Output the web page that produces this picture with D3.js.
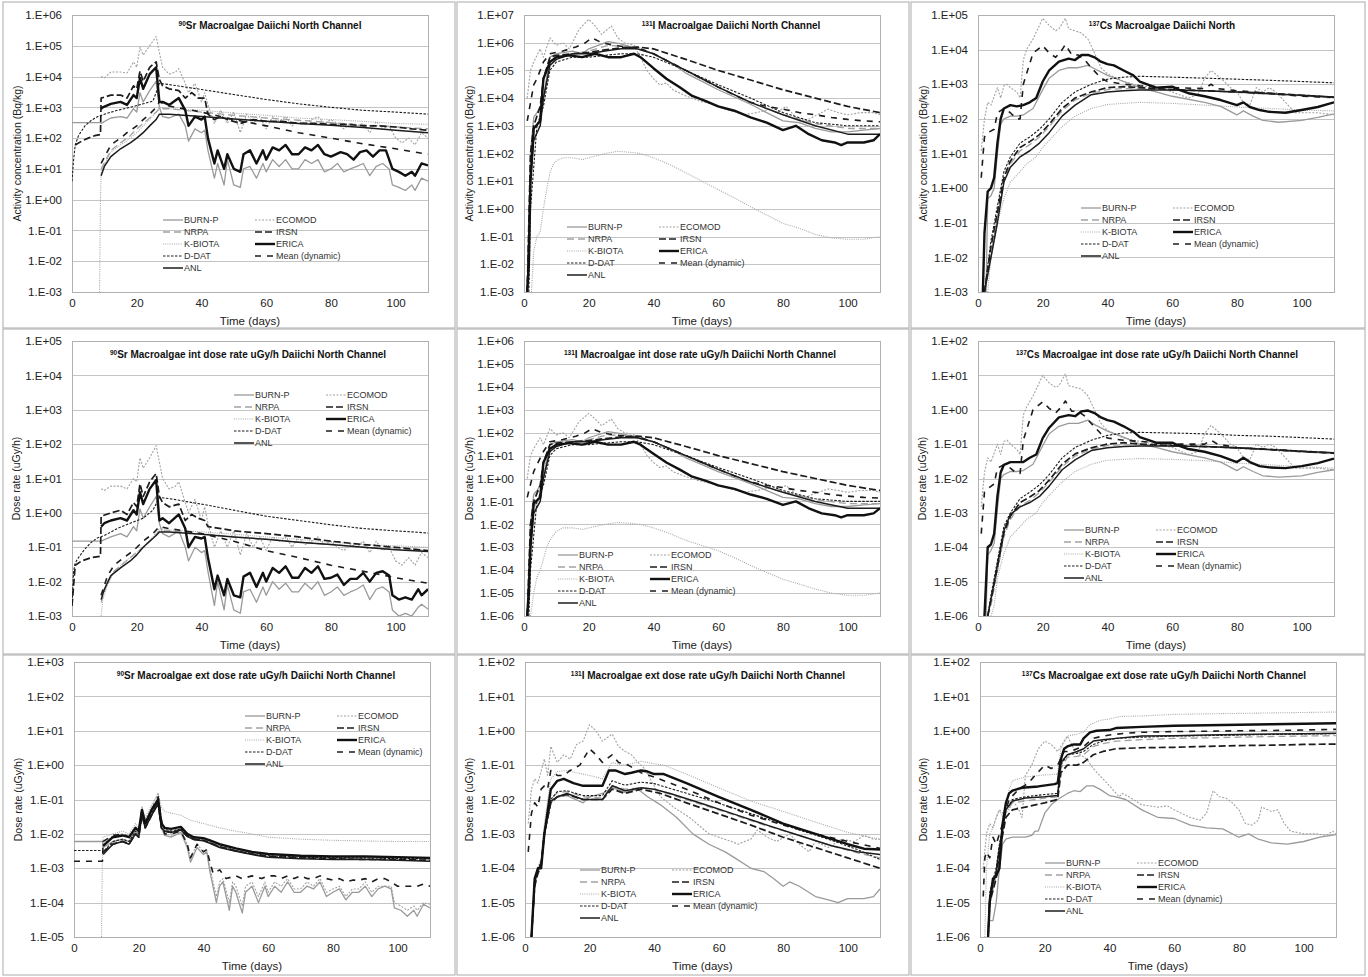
<!DOCTYPE html>
<html>
<head>
<meta charset="utf-8">
<script src="https://cdn.jsdelivr.net/npm/d3@7"></script>
<style>
body { margin: 0; background: #fff; }
svg { display: block; font-family: "Liberation Sans", Arial, sans-serif; }
</style>
</head>
<body>
<svg id="chart" width="1368" height="977"></svg>
<script>
// legend order of the models
var models = ["BURN-P", "NRPA", "K-BIOTA", "D-DAT", "ANL", "ECOMOD", "IRSN", "ERICA", "Mean (dynamic)"];
var xTicks = [0, 20, 40, 60, 80, 100];

// ---- data: [day, value] ----

// 90Sr activity concentration (Bq/kg)
var srAct = {
  "BURN-P": [[0,320],[8.8,320],[9,300],[12,450],[15,500],[17,450],[19,900],[20,700],[21,3000],[22,1500],[24,3500],[26,7000],[27,1000],[28,500],[30,450],[33,600],[35,250],[36,80],[38,200],[40,150],[41,180],[42,40],[44,5],[45,15],[47,3],[48,20],[50,3],[52,2.5],[53,10],[55,12],[57,5],[59,15],[60,8],[62,20],[64,12],[66,20],[68,10],[70,10],[72,20],[74,15],[76,20],[78,8],[80,10],[82,15],[84,8],[86,10],[88,12],[90,15],[92,6],[94,12],[96,15],[98,10],[99,3],[101,2.5],[103,2],[105,3],[106,2],[108,5],[110,4]],
  "NRPA": [[9,10],[12,40],[15,70],[18,120],[20,200],[22,300],[24,450],[26,700],[27,900],[30,900],[40,700],[50,550],[60,450],[70,380],[80,320],[90,270],[100,230],[110,200]],
  "K-BIOTA": [[8.5,0.001],[8.8,1],[9,8],[12,35],[15,60],[18,100],[20,150],[22,250],[24,400],[26,700],[27,1000],[30,900],[40,800],[50,650],[60,550],[70,450],[80,400],[90,350],[100,300],[110,280]],
  "D-DAT": [[0,4],[0.5,20],[1,60],[2,120],[4,250],[6,380],[8,500],[10,600],[14,800],[18,1000],[22,1300],[25,1600],[26,3000],[27,6000],[30,5500],[40,3800],[50,2600],[60,1800],[70,1300],[80,1000],[90,800],[100,700],[110,600]],
  "ANL": [[9,6],[10,12],[12,25],[15,45],[18,70],[20,100],[22,150],[24,250],[26,400],[27,600],[30,600],[40,500],[50,420],[60,350],[70,300],[80,260],[90,220],[100,180],[110,150]],
  "ECOMOD": [[9,10000],[10,9000],[12,14000],[15,14000],[17,13000],[19,30000],[20,20000],[21,90000],[22,50000],[24,100000],[26,200000],[27,60000],[28,20000],[30,12000],[32,14000],[33,18000],[35,6000],[36,3000],[38,6000],[40,1500],[41,3000],[42,1200],[44,300],[46,800],[48,300],[50,700],[52,150],[54,600],[56,300],[58,500],[60,200],[62,500],[64,350],[66,500],[68,250],[70,400],[72,300],[74,400],[76,500],[78,300],[80,400],[82,300],[84,200],[86,300],[88,250],[90,300],[92,150],[94,350],[96,200],[98,250],[100,100],[102,70],[104,100],[106,60],[108,150],[110,100]],
  "IRSN": [[1,60],[3,80],[5,100],[7,120],[8.8,130],[9,2000],[12,2500],[15,2500],[17,2000],[19,5000],[20,4000],[21,15000],[22,7000],[24,20000],[26,30000],[27,8000],[28,5000],[30,4000],[33,3500],[35,2000],[37,3000],[39,2000],[41,2000],[42,600],[44,400],[46,500],[48,400],[52,300],[56,400],[60,350],[65,350],[70,300],[75,300],[80,280],[85,280],[90,250],[95,250],[100,230],[105,200],[110,180]],
  "ERICA": [[9,900],[9.5,1000],[12,1300],[15,1500],[17,1200],[19,2500],[20,2000],[21,9000],[22,4000],[24,12000],[26,20000],[27,1500],[28,1500],[30,1200],[33,2000],[35,800],[36,250],[38,500],[40,400],[41,500],[42,100],[44,15],[45,40],[47,10],[48,30],[50,10],[52,8],[53,30],[55,40],[57,15],[59,40],[60,20],[62,50],[64,40],[66,60],[68,30],[70,30],[72,50],[74,40],[76,60],[78,30],[80,25],[83,35],[85,30],[87,20],[89,35],[91,40],[93,25],[95,40],[97,40],[99,10],[101,8],[103,6],[105,8],[106,6],[108,15],[110,13]],
  "Mean (dynamic)": [[9,15],[12,60],[15,100],[17,150],[20,250],[22,400],[24,600],[26,1000],[27,1500],[30,1100],[40,700],[50,400],[60,250],[70,150],[80,100],[90,65],[100,45],[110,30]]
};

// 131I activity concentration (Bq/kg)
var iAct = {
  "BURN-P": [[1,0.001],[2,100],[3,2000],[4,3000],[5,5000],[6,10000],[8,3e5],[10,4e5],[15,5e5],[18,4e5],[20,6e5],[26,1.1e6],[30,9e5],[35,6e5],[40,4e5],[45,2e5],[50,8e4],[55,4e4],[60,2e4],[70,6000],[80,1500],[85,1300],[90,800],[95,600],[100,600],[105,700],[110,800]],
  "NRPA": [[1,0.001],[2,50],[3,500],[5,2000],[6,8000],[8,2e5],[10,3e5],[15,4e5],[20,5e5],[26,8e5],[30,7.5e5],[35,7e5],[40,4e5],[50,1e5],[60,2.5e4],[70,7000],[80,2500],[90,1200],[100,800],[110,800]],
  "K-BIOTA": [[2.3,0.001],[3,0.03],[4,0.1],[5,0.15],[6,1],[7,5],[8,20],[9,40],[10,55],[12,70],[15,70],[18,60],[20,70],[25,100],[29,120],[33,110],[36,100],[40,70],[45,40],[50,20],[55,10],[60,5],[65,2.5],[70,1.2],[75,0.6],[80,0.3],[85,0.2],[90,0.12],[95,0.09],[100,0.08],[105,0.08],[110,0.1]],
  "D-DAT": [[1.5,0.001],[2,1],[4,1000],[6,5000],[8,1e5],[10,2e5],[15,3e5],[20,3e5],[25,3.5e5],[30,4e5],[35,4e5],[40,3e5],[50,1e5],[60,3e4],[70,1e4],[80,3000],[90,1300],[100,1000],[110,1000]],
  "ANL": [[1,0.001],[2,10],[3,300],[5,1000],[6,10000],[8,1.5e5],[10,2.5e5],[15,4e5],[20,4e5],[25,5e5],[30,6e5],[35,6e5],[40,4e5],[45,2e5],[50,1e5],[55,5e4],[60,2.5e4],[70,7000],[80,2500],[90,1000],[100,500],[110,500]],
  "ECOMOD": [[1,1e4],[2,1e5],[3,2e5],[5,6e5],[6,3e5],[8,1.5e6],[10,8e5],[12,1e6],[14,6e5],[17,3e6],[20,7e6],[22,4e6],[24,2e6],[27,4e6],[29,1.5e6],[31,1e6],[34,8e5],[36,3e5],[38,1e5],[40,5e4],[42,3e4],[44,3.5e4],[46,2e4],[50,1.2e4],[54,8000],[58,6000],[62,4000],[66,3000],[68,2500],[72,3000],[76,4000],[78,3000],[81,5000],[84,2000],[87,1500],[89,2000],[94,4000],[97,3000],[100,2500],[104,3000],[108,3000],[110,2500]],
  "IRSN": [[1,0.001],[2,100],[3,1000],[5,5000],[6,5e4],[8,3e5],[10,3.5e5],[15,4e5],[20,4.5e5],[25,5.5e5],[30,6.5e5],[35,7e5],[40,6e5],[50,2.5e5],[60,1e5],[70,4.5e4],[80,2e4],[90,1e4],[100,5000],[110,3000]],
  "ERICA": [[1,0.001],[1.5,0.01],[2,10],[3,800],[5,1500],[6,5e4],[8,2e5],[10,3e5],[14,3.5e5],[18,3e5],[20,3.5e5],[22,4e5],[26,3e5],[30,3e5],[34,4e5],[36,3e5],[40,1.2e5],[44,5e4],[48,2.5e4],[52,1.2e4],[56,8000],[60,5000],[65,3500],[70,2000],[75,1300],[80,700],[84,1000],[88,500],[92,300],[96,250],[98,200],[100,250],[105,250],[108,300],[110,500]],
  "Mean (dynamic)": [[1,1500],[3,3e4],[4,5e4],[6,2e5],[8,4e5],[12,5e5],[16,7e5],[19,1e6],[21,1.5e6],[24,1e6],[28,8e5],[32,7e5],[36,6e5],[40,4e5],[45,2e5],[50,1e5],[55,5e4],[60,2.5e4],[65,1.3e4],[70,7000],[75,5000],[80,4000],[85,3000],[90,2500],[95,2000],[100,1700],[105,1500],[110,1400]]
};

// 137Cs activity concentration (Bq/kg)
var csAct = {
  "BURN-P": [[2.5,0.001],[3,0.5],[4,0.6],[5,1],[6,10],[7,70],[8,100],[10,120],[12,120],[14,130],[17,200],[20,700],[22,1500],[25,2500],[28,3000],[31,3000],[34,3500],[36,2800],[40,1800],[45,1200],[50,800],[55,600],[60,450],[70,300],[75,230],[80,130],[82,170],[85,120],[88,90],[93,80],[100,90],[105,110],[110,140]],
  "NRPA": [[2,0.001],[4,0.01],[6,0.15],[8,1.5],[10,5],[13,12],[16,18],[19,30],[22,60],[26,170],[30,350],[35,550],[40,700],[45,750],[50,750],[60,700],[70,650],[80,580],[90,520],[100,460],[110,400]],
  "K-BIOTA": [[3,0.001],[4,0.01],[6,0.1],[8,0.5],[10,1.5],[13,3],[15,5],[18,8],[20,15],[23,30],[26,60],[30,120],[35,200],[40,260],[45,280],[50,300],[60,280],[70,250],[80,220],[90,200],[100,180],[110,170]],
  "D-DAT": [[2,0.001],[4,0.03],[6,0.3],[8,3],[10,8],[13,20],[16,30],[19,50],[22,100],[26,300],[30,600],[35,1000],[40,1400],[45,1600],[50,1700],[60,1600],[70,1500],[80,1400],[90,1300],[100,1200],[110,1100]],
  "ANL": [[2,0.001],[4,0.01],[6,0.1],[8,1.5],[10,4],[13,8],[16,12],[19,20],[22,40],[26,120],[30,250],[35,500],[40,600],[45,650],[50,680],[60,680],[70,650],[80,600],[90,530],[100,480],[110,430]],
  "ECOMOD": [[1,12],[2,100],[3,300],[4,250],[6,800],[7,400],[8,900],[9,1000],[10,800],[12,600],[13,400],[14,5000],[15,10000],[17,20000],[20,80000],[22,50000],[24,35000],[25,40000],[27,80000],[28,40000],[30,35000],[32,30000],[34,20000],[36,8000],[38,3000],[40,2000],[45,1200],[50,900],[55,800],[60,600],[65,400],[68,500],[70,1500],[72,2500],[75,1500],[78,800],[80,600],[82,300],[84,250],[86,800],[88,600],[90,800],[92,600],[95,300],[98,150],[100,150],[105,150],[110,130]],
  "IRSN": [[2,0.001],[4,0.02],[6,0.2],[8,2],[10,6],[13,15],[16,22],[19,35],[22,70],[26,200],[30,400],[35,600],[40,800],[45,850],[50,800],[60,700],[70,650],[80,600],[90,550],[100,480],[110,420]],
  "ERICA": [[1.5,0.001],[2,0.05],[3,0.8],[4,1],[5,2],[6,20],[7,100],[8,200],[10,250],[12,230],[14,250],[16,300],[18,400],[20,1200],[22,2500],[25,4500],[28,5500],[30,5000],[32,7000],[34,7000],[36,6000],[38,4500],[40,3800],[42,3500],[45,2500],[48,1800],[50,1200],[55,800],[60,850],[62,700],[65,550],[70,450],[75,350],[80,250],[82,300],[84,220],[87,180],[90,160],[95,150],[100,180],[105,220],[110,300]],
  "Mean (dynamic)": [[1,2],[2,30],[3,40],[5,50],[6,150],[8,200],[10,150],[12,100],[13,100],[14,1000],[17,8000],[20,13000],[22,8000],[24,6000],[26,10000],[27,14000],[29,7000],[31,7000],[33,5000],[35,3000],[38,1500],[40,1200],[45,1000],[50,900],[55,850],[60,800],[70,750],[72,1000],[74,750],[80,650],[90,550],[100,450],[110,420]]
};

// 90Sr internal dose rate (uGy/h)
var srInt = {
  "BURN-P": [[0,0.15],[8.8,0.15],[9,0.15],[12,0.2],[15,0.25],[17,0.2],[19,0.4],[20,0.3],[21,1.3],[22,0.7],[24,1.5],[26,3],[27,0.5],[28,0.25],[30,0.2],[33,0.3],[35,0.1],[36,0.04],[38,0.1],[40,0.07],[41,0.08],[42,0.02],[44,0.002],[45,0.01],[47,0.0015],[48,0.008],[50,0.0015],[52,0.0012],[53,0.005],[55,0.006],[57,0.0025],[59,0.007],[60,0.004],[62,0.01],[64,0.006],[66,0.009],[68,0.005],[70,0.005],[72,0.009],[74,0.006],[76,0.01],[78,0.004],[80,0.005],[82,0.007],[84,0.004],[86,0.005],[88,0.006],[90,0.008],[92,0.003],[94,0.006],[96,0.007],[98,0.005],[99,0.0015],[101,0.001],[103,0.0012],[105,0.001],[107,0.0018],[108,0.0022],[110,0.0016]],
  "NRPA": [[9,0.0025],[11,0.01],[13,0.02],[16,0.035],[19,0.06],[22,0.1],[25,0.18],[27,0.3],[30,0.3],[40,0.25],[50,0.2],[60,0.17],[70,0.14],[80,0.12],[90,0.1],[100,0.09],[110,0.08]],
  "K-BIOTA": [[9,0.001],[9.5,0.003],[11,0.008],[13,0.02],[16,0.035],[19,0.06],[22,0.1],[25,0.2],[27,0.35],[30,0.32],[40,0.28],[50,0.24],[60,0.2],[70,0.17],[80,0.14],[90,0.12],[100,0.11],[110,0.1]],
  "D-DAT": [[0,0.002],[0.5,0.02],[1,0.035],[2,0.05],[4,0.09],[6,0.14],[8,0.19],[10,0.22],[14,0.35],[18,0.5],[22,0.7],[25,1.2],[27,2.8],[30,2.6],[40,1.8],[50,1.2],[60,0.8],[70,0.6],[80,0.45],[90,0.35],[100,0.3],[110,0.26]],
  "ANL": [[9,0.003],[10,0.006],[12,0.015],[15,0.025],[18,0.04],[20,0.06],[22,0.1],[24,0.15],[26,0.22],[27,0.28],[30,0.28],[40,0.24],[50,0.2],[60,0.17],[70,0.14],[80,0.12],[90,0.1],[100,0.085],[110,0.075]],
  "ECOMOD": [[9,5],[10,4.5],[12,6],[15,6],[17,5],[19,10],[20,8],[21,40],[22,20],[24,40],[26,90],[27,30],[28,10],[30,5],[32,6],[33,8],[35,2],[36,1],[38,2.5],[40,0.6],[41,1.5],[42,0.5],[44,0.1],[46,0.3],[48,0.1],[50,0.3],[52,0.06],[54,0.25],[56,0.1],[58,0.2],[60,0.08],[62,0.2],[64,0.15],[66,0.2],[68,0.1],[70,0.2],[72,0.12],[74,0.15],[76,0.2],[78,0.12],[80,0.15],[82,0.1],[84,0.08],[86,0.12],[88,0.1],[90,0.15],[92,0.07],[94,0.15],[96,0.08],[98,0.1],[100,0.04],[102,0.03],[104,0.05],[106,0.03],[108,0.07],[110,0.05]],
  "IRSN": [[0,0.002],[1,0.03],[3,0.04],[6,0.05],[8.8,0.055],[9,0.8],[12,1],[15,1.2],[17,0.9],[19,2],[20,1.5],[21,7],[22,3],[24,8],[26,14],[27,3],[28,2],[30,1.5],[33,1.8],[35,0.6],[37,0.9],[39,0.7],[41,0.6],[42,0.4],[46,0.35],[50,0.3],[60,0.25],[70,0.2],[80,0.15],[90,0.12],[100,0.1],[110,0.08]],
  "ERICA": [[9,0.4],[10,0.5],[12,0.6],[15,0.7],[17,0.6],[19,1.2],[20,0.9],[21,4],[22,1.8],[24,5],[26,9],[27,0.6],[28,0.7],[30,0.5],[33,0.9],[35,0.35],[36,0.1],[38,0.2],[40,0.18],[41,0.2],[42,0.05],[44,0.006],[45,0.015],[47,0.004],[48,0.012],[50,0.004],[52,0.0035],[53,0.014],[55,0.018],[57,0.007],[59,0.018],[60,0.01],[62,0.025],[64,0.018],[66,0.028],[68,0.013],[70,0.013],[72,0.025],[74,0.018],[76,0.028],[78,0.012],[80,0.013],[82,0.016],[84,0.008],[86,0.012],[88,0.012],[90,0.018],[92,0.01],[94,0.018],[96,0.02],[98,0.015],[99,0.004],[101,0.003],[103,0.0035],[105,0.003],[107,0.006],[108,0.004],[110,0.006]],
  "Mean (dynamic)": [[9,0.004],[11,0.015],[13,0.03],[16,0.05],[19,0.08],[22,0.15],[25,0.25],[27,0.4],[30,0.35],[40,0.25],[50,0.15],[60,0.08],[70,0.05],[80,0.03],[90,0.02],[100,0.013],[110,0.009]]
};

// 131I internal dose rate (uGy/h)
var iInt = {
  "BURN-P": [[1,1e-6],[2,0.01],[3,0.2],[4,0.3],[5,0.5],[6,1],[8,30],[10,40],[15,50],[18,40],[20,60],[26,110],[30,90],[35,60],[40,40],[45,20],[50,8],[55,4],[60,2],[70,0.6],[80,0.15],[85,0.13],[90,0.08],[95,0.06],[100,0.06],[105,0.07],[110,0.08]],
  "NRPA": [[1,1e-6],[2,0.01],[3,0.05],[5,0.2],[6,2],[8,20],[10,30],[15,40],[20,50],[26,80],[30,75],[35,70],[40,40],[50,10],[60,2.5],[70,0.7],[80,0.25],[90,0.12],[100,0.08],[110,0.08]],
  "K-BIOTA": [[2,1e-6],[3,1e-5],[4,5e-5],[5,1e-4],[6,3e-4],[7,1e-3],[8,2e-3],[10,5e-3],[12,7e-3],[15,7e-3],[18,6e-3],[20,7e-3],[25,0.01],[29,0.012],[33,0.011],[36,0.01],[40,7e-3],[45,4e-3],[50,2e-3],[55,1.2e-3],[60,7e-4],[65,3.5e-4],[70,1.6e-4],[75,8e-5],[80,4e-5],[85,2.5e-5],[90,1.5e-5],[95,1e-5],[100,8e-6],[105,8e-6],[110,1e-5]],
  "D-DAT": [[1.5,1e-6],[2,1e-4],[4,0.1],[6,0.5],[8,10],[10,20],[15,30],[20,30],[25,35],[30,40],[35,40],[40,30],[50,10],[60,3],[70,1],[80,0.3],[90,0.13],[100,0.1],[110,0.1]],
  "ANL": [[1,1e-6],[2,0.001],[3,0.03],[5,0.1],[6,1],[8,15],[10,25],[15,40],[20,40],[25,50],[30,60],[35,60],[40,40],[45,20],[50,10],[55,5],[60,2.5],[70,0.7],[80,0.25],[90,0.1],[100,0.05],[110,0.05]],
  "ECOMOD": [[1,1],[2,10],[3,20],[5,60],[6,30],[8,150],[10,80],[12,100],[14,60],[17,300],[20,700],[22,400],[24,200],[27,400],[29,150],[31,100],[34,80],[36,30],[38,10],[40,5],[42,3],[44,3.5],[46,2],[50,1.2],[54,0.8],[58,0.6],[62,0.4],[66,0.3],[68,0.25],[72,0.3],[76,0.4],[78,0.3],[81,0.5],[84,0.2],[87,0.15],[89,0.2],[94,0.35],[97,0.3],[100,0.25],[104,0.3],[108,0.3],[110,0.25]],
  "IRSN": [[1,1e-6],[2,0.01],[3,0.1],[5,0.5],[6,5],[8,30],[10,35],[15,40],[20,45],[25,55],[30,65],[35,70],[40,60],[50,25],[60,10],[70,4.5],[80,2],[90,1],[100,0.5],[110,0.3]],
  "ERICA": [[1,1e-6],[1.5,1e-5],[2,0.001],[3,0.08],[5,0.15],[6,5],[8,20],[10,30],[14,35],[18,30],[20,35],[22,40],[26,30],[30,30],[34,40],[36,30],[40,12],[44,5],[48,2.5],[52,1.2],[56,0.8],[60,0.5],[65,0.35],[70,0.2],[75,0.13],[80,0.07],[84,0.1],[88,0.05],[92,0.03],[96,0.025],[98,0.02],[100,0.025],[105,0.025],[108,0.03],[110,0.05]],
  "Mean (dynamic)": [[1,0.15],[3,2],[4,4],[6,15],[8,40],[12,50],[16,70],[19,100],[21,150],[24,100],[28,80],[32,70],[36,60],[40,40],[45,20],[50,10],[55,5],[60,2.5],[65,1.3],[70,0.7],[75,0.5],[80,0.4],[85,0.3],[90,0.25],[95,0.2],[100,0.17],[105,0.15],[110,0.14]]
};

// 137Cs internal dose rate (uGy/h)
var csInt = {
  "BURN-P": [[2.5,1e-6],[3,6e-5],[4,8e-5],[5,1.3e-4],[6,1.3e-3],[7,0.01],[8,0.013],[10,0.016],[12,0.016],[14,0.017],[17,0.026],[20,0.09],[22,0.2],[25,0.33],[28,0.4],[31,0.4],[34,0.5],[36,0.37],[40,0.24],[45,0.16],[50,0.1],[55,0.08],[60,0.06],[70,0.04],[75,0.03],[80,0.017],[82,0.022],[85,0.016],[88,0.012],[93,0.011],[100,0.012],[105,0.015],[110,0.018]],
  "NRPA": [[3,1e-6],[4,2e-6],[6,2e-5],[8,2e-4],[10,6.5e-4],[13,1.6e-3],[16,2.3e-3],[19,3.9e-3],[22,7.8e-3],[26,0.022],[30,0.045],[35,0.07],[40,0.09],[45,0.097],[50,0.097],[60,0.09],[70,0.085],[80,0.075],[90,0.068],[100,0.06],[110,0.052]],
  "K-BIOTA": [[4,1e-6],[5,2e-6],[6,1.3e-5],[8,6.5e-5],[10,2e-4],[13,4e-4],[15,6.5e-4],[18,1e-3],[20,2e-3],[23,4e-3],[26,8e-3],[30,0.016],[35,0.026],[40,0.034],[45,0.036],[50,0.038],[60,0.036],[70,0.033],[80,0.028],[90,0.025],[100,0.022],[110,0.02]],
  "D-DAT": [[3,1e-6],[4,4e-6],[6,4e-5],[8,4e-4],[10,1e-3],[13,2.6e-3],[16,4e-3],[19,6.5e-3],[22,0.013],[26,0.04],[30,0.08],[35,0.13],[40,0.18],[45,0.21],[50,0.22],[60,0.21],[70,0.2],[80,0.18],[90,0.17],[100,0.155],[110,0.14]],
  "ANL": [[3,1e-6],[4,3e-6],[6,3e-5],[8,3e-4],[10,9e-4],[13,1.5e-3],[16,2e-3],[19,3e-3],[22,6e-3],[26,0.018],[30,0.035],[35,0.065],[40,0.078],[45,0.085],[50,0.088],[60,0.088],[70,0.085],[80,0.078],[90,0.07],[100,0.062],[110,0.056]],
  "ECOMOD": [[1,0.0015],[2,0.015],[3,0.04],[4,0.03],[6,0.1],[7,0.05],[8,0.12],[9,0.13],[10,0.1],[12,0.07],[13,0.05],[14,0.7],[15,1.2],[17,2.5],[20,10],[22,6],[24,4.5],[25,5],[27,11],[28,5],[30,4.5],[32,4],[34,2.5],[36,1],[38,0.4],[40,0.25],[45,0.15],[50,0.12],[55,0.1],[60,0.08],[65,0.05],[68,0.06],[70,0.2],[72,0.35],[75,0.2],[78,0.1],[80,0.08],[82,0.04],[84,0.035],[86,0.1],[88,0.08],[90,0.1],[92,0.08],[95,0.04],[98,0.02],[100,0.02],[105,0.02],[110,0.018]],
  "IRSN": [[3,1e-6],[4,3e-6],[6,2.6e-5],[8,2.6e-4],[10,8e-4],[13,2e-3],[16,2.9e-3],[19,4.5e-3],[22,9e-3],[26,0.026],[30,0.052],[35,0.078],[40,0.1],[45,0.11],[50,0.1],[60,0.09],[70,0.085],[80,0.078],[90,0.07],[100,0.062],[110,0.055]],
  "ERICA": [[2,1e-6],[2.5,1e-5],[3,1e-4],[4,1.2e-4],[5,2.5e-4],[6,3e-3],[7,0.015],[8,0.025],[10,0.03],[12,0.03],[14,0.03],[16,0.04],[18,0.05],[20,0.15],[22,0.3],[25,0.6],[28,0.7],[30,0.65],[32,0.9],[34,0.95],[36,0.8],[38,0.6],[40,0.5],[42,0.45],[45,0.33],[48,0.23],[50,0.16],[55,0.11],[60,0.11],[62,0.09],[65,0.072],[70,0.06],[75,0.045],[80,0.03],[82,0.04],[84,0.03],[87,0.023],[90,0.021],[95,0.02],[100,0.023],[105,0.028],[110,0.038]],
  "Mean (dynamic)": [[1,0.00025],[2,0.004],[3,0.005],[5,0.007],[6,0.02],[8,0.025],[10,0.02],[12,0.014],[13,0.014],[14,0.13],[17,1],[20,1.7],[22,1.1],[24,0.8],[26,1.3],[27,1.8],[29,0.9],[31,0.9],[33,0.65],[35,0.4],[38,0.2],[40,0.15],[45,0.13],[50,0.12],[55,0.11],[60,0.1],[70,0.1],[72,0.13],[74,0.1],[80,0.08],[90,0.07],[100,0.06],[110,0.055]]
};

// 90Sr external dose rate (uGy/h)
var srExt = {
  "BURN-P": [[0,0.006],[8.8,0.006],[9,0.004],[12,0.006],[15,0.007],[17,0.006],[19,0.012],[20,0.01],[21,0.05],[22,0.02],[24,0.04],[26,0.08],[27,0.015],[28,0.009],[30,0.008],[33,0.011],[35,0.004],[36,0.0015],[38,0.004],[40,0.0025],[41,0.003],[42,0.0008],[44,0.0001],[45,0.0003],[46,0.0004],[48,0.00006],[49,0.0003],[50,0.0002],[52,0.00005],[53,0.0002],[55,0.0003],[57,0.0001],[59,0.0003],[60,0.00015],[62,0.0003],[64,0.0002],[66,0.0004],[68,0.0002],[70,0.0002],[72,0.0003],[74,0.00025],[76,0.0004],[78,0.00015],[80,0.0002],[82,0.00025],[84,0.00012],[86,0.0002],[88,0.0002],[90,0.0003],[92,0.00015],[94,0.00025],[96,0.0003],[98,0.00025],[99,0.00007],[101,0.00006],[103,0.00004],[105,0.00006],[106,0.00004],[108,0.00009],[110,0.00007]],
  "NRPA": [[9,0.0028],[12,0.0055],[15,0.0065],[17,0.0055],[19,0.011],[20,0.009],[21,0.04],[22,0.016],[24,0.04],[26,0.09],[27,0.016],[28,0.013],[30,0.012],[33,0.014],[35,0.009],[37,0.0072],[40,0.0068],[42,0.0058],[45,0.0044],[50,0.0034],[55,0.0028],[60,0.0024],[70,0.0021],[80,0.002],[90,0.0019],[100,0.0019],[110,0.0018]],
  "K-BIOTA": [[8.5,0.00001],[8.8,0.005],[9,0.008],[12,0.01],[15,0.012],[17,0.01],[19,0.02],[20,0.015],[21,0.06],[22,0.03],[24,0.07],[26,0.15],[27,0.06],[28,0.045],[30,0.04],[33,0.035],[36,0.025],[40,0.02],[45,0.015],[50,0.012],[55,0.01],[60,0.008],[70,0.007],[80,0.0065],[90,0.0062],[100,0.006],[110,0.006]],
  "D-DAT": [[0,0.0033],[8.8,0.0033],[9,0.003],[12,0.006],[15,0.007],[17,0.006],[19,0.012],[20,0.01],[21,0.04],[22,0.016],[24,0.04],[26,0.09],[27,0.02],[28,0.014],[30,0.012],[33,0.014],[35,0.009],[37,0.007],[40,0.0065],[42,0.0055],[45,0.0042],[50,0.0033],[55,0.0027],[60,0.0023],[70,0.0021],[80,0.002],[90,0.002],[100,0.0019],[110,0.0019]],
  "ANL": [[9,0.0025],[12,0.005],[15,0.006],[17,0.005],[19,0.01],[20,0.008],[21,0.035],[22,0.015],[24,0.035],[26,0.075],[27,0.015],[28,0.012],[30,0.011],[33,0.013],[35,0.0085],[37,0.0068],[40,0.0063],[42,0.0053],[45,0.004],[50,0.0031],[55,0.0025],[60,0.0021],[70,0.0019],[80,0.0018],[90,0.0018],[100,0.0017],[110,0.0016]],
  "ECOMOD": [[9,0.005],[12,0.009],[15,0.01],[17,0.008],[19,0.015],[20,0.012],[21,0.06],[22,0.025],[24,0.06],[26,0.15],[27,0.03],[28,0.01],[30,0.009],[33,0.013],[35,0.005],[36,0.002],[38,0.005],[40,0.003],[41,0.0035],[42,0.001],[44,0.00015],[45,0.0004],[46,0.0005],[48,0.0001],[49,0.0004],[50,0.0003],[52,0.00008],[53,0.0003],[55,0.0004],[57,0.00015],[59,0.0004],[60,0.0002],[62,0.0004],[64,0.0003],[66,0.0005],[68,0.00025],[70,0.00025],[72,0.0004],[74,0.0003],[76,0.0005],[78,0.0002],[80,0.00025],[82,0.0003],[84,0.00015],[86,0.00025],[88,0.00025],[90,0.0004],[92,0.0002],[94,0.0003],[96,0.0003],[98,0.0003],[99,0.0001],[101,0.00008],[103,0.00006],[105,0.00008],[106,0.00006],[108,0.0001],[110,0.00009]],
  "IRSN": [[9,0.003],[12,0.005],[15,0.006],[17,0.005],[19,0.01],[20,0.008],[21,0.035],[22,0.015],[24,0.035],[26,0.08],[27,0.015],[28,0.012],[30,0.011],[33,0.013],[35,0.0085],[37,0.007],[40,0.0065],[42,0.0055],[45,0.0042],[50,0.0032],[55,0.0026],[60,0.0022],[70,0.002],[80,0.0019],[90,0.0018],[100,0.0018],[110,0.0017]],
  "ERICA": [[9,0.0045],[12,0.008],[15,0.009],[17,0.008],[19,0.015],[20,0.012],[21,0.05],[22,0.02],[24,0.05],[26,0.1],[27,0.02],[28,0.015],[30,0.014],[33,0.016],[35,0.01],[37,0.008],[40,0.0075],[42,0.0065],[45,0.005],[50,0.0038],[55,0.003],[60,0.0026],[70,0.0023],[80,0.0022],[90,0.0022],[100,0.0021],[110,0.002]],
  "Mean (dynamic)": [[0,0.0016],[8.8,0.0016],[9,0.006],[12,0.009],[15,0.01],[17,0.008],[19,0.015],[20,0.012],[21,0.05],[22,0.02],[24,0.05],[26,0.12],[27,0.025],[28,0.01],[30,0.01],[33,0.012],[35,0.005],[36,0.002],[38,0.005],[40,0.003],[41,0.0035],[42,0.0015],[43,0.0007],[45,0.0009],[47,0.0005],[50,0.0006],[52,0.0005],[55,0.0006],[58,0.0005],[60,0.0006],[62,0.0006],[64,0.0005],[66,0.0006],[68,0.0005],[70,0.0006],[72,0.0005],[74,0.0005],[76,0.0006],[78,0.0005],[80,0.00045],[82,0.0005],[84,0.0004],[86,0.00045],[88,0.00045],[90,0.0005],[92,0.0004],[94,0.0005],[96,0.0005],[98,0.0004],[100,0.0003],[103,0.0003],[106,0.0003],[108,0.00035],[110,0.0003]]
};

// 131I external dose rate (uGy/h)
var iExt = {
  "BURN-P": [[2,1e-6],[3,4e-5],[4,8e-5],[5,1.5e-4],[6,1e-3],[8,0.008],[10,0.012],[13,0.013],[18,0.008],[20,0.012],[24,0.015],[27,0.022],[31,0.016],[35,0.02],[38,0.012],[42,0.007],[47,0.003],[52,0.001],[57,0.0005],[62,0.0003],[65,0.0002],[70,0.0001],[74,0.00008],[77,0.00005],[80,0.00003],[82,0.00004],[85,0.00003],[90,0.000015],[94,0.000012],[97,0.00001],[100,0.000013],[105,0.000013],[108,0.000015],[110,0.000025]],
  "NRPA": [[2,1e-6],[3,3e-5],[4,8e-5],[5,1.2e-4],[6,1e-3],[8,0.01],[10,0.016],[13,0.017],[18,0.012],[24,0.011],[27,0.025],[31,0.02],[36,0.022],[40,0.02],[45,0.014],[55,0.007],[65,0.0035],[75,0.0017],[85,0.0009],[95,0.00045],[103,0.00028],[110,0.0002]],
  "K-BIOTA": [[2,1e-6],[3,5e-5],[4,1e-4],[5,2e-4],[6,2e-3],[8,0.04],[10,0.065],[13,0.07],[16,0.06],[20,0.05],[24,0.04],[27,0.12],[30,0.1],[33,0.11],[36,0.13],[40,0.11],[43,0.1],[50,0.055],[60,0.022],[70,0.009],[80,0.0045],[90,0.0022],[100,0.0011],[110,0.0007]],
  "D-DAT": [[2,1e-6],[3,5e-5],[4,1e-4],[5,1.5e-4],[6,1.2e-3],[8,0.01],[10,0.017],[13,0.018],[18,0.013],[24,0.013],[27,0.035],[31,0.026],[36,0.032],[40,0.029],[45,0.021],[55,0.011],[65,0.0055],[75,0.0027],[85,0.0013],[95,0.00065],[103,0.00035],[110,0.00018]],
  "ANL": [[2,1e-6],[3,4e-5],[4,9e-5],[5,1.3e-4],[6,1e-3],[8,0.009],[10,0.012],[13,0.015],[18,0.01],[24,0.01],[27,0.025],[31,0.018],[36,0.022],[40,0.02],[45,0.015],[55,0.0075],[65,0.0037],[75,0.0018],[85,0.0009],[95,0.00045],[103,0.0003],[110,0.00025]],
  "ECOMOD": [[1,0.002],[2,0.02],[3,0.04],[4,0.03],[6,0.15],[7,0.05],[8,0.35],[9,0.2],[10,0.12],[12,0.2],[14,0.15],[16,0.4],[18,0.5],[20,1.5],[22,1],[24,0.5],[27,0.8],[29,0.35],[31,0.25],[33,0.2],[35,0.12],[37,0.08],[40,0.025],[42,0.012],[46,0.006],[51,0.003],[57,0.001],[64,0.0006],[66,0.0005],[68,0.0006],[70,0.0007],[72,0.0013],[75,0.0008],[78,0.0006],[82,0.001],[85,0.0005],[88,0.0003],[90,0.0006],[94,0.0004],[98,0.0007],[102,0.0006],[105,0.0009],[108,0.0007],[110,0.0007]],
  "IRSN": [[2,1e-6],[3,3e-5],[4,7e-5],[5,1.2e-4],[6,1e-3],[8,0.008],[10,0.012],[13,0.014],[18,0.01],[24,0.01],[27,0.02],[31,0.015],[36,0.02],[42,0.015],[50,0.008],[60,0.0038],[70,0.0018],[80,0.0008],[90,0.0004],[100,0.0002],[110,0.0001]],
  "ERICA": [[2,1e-6],[3,5e-5],[4,1e-4],[5,1e-4],[6,1e-3],[8,0.02],[10,0.035],[12,0.04],[15,0.03],[18,0.025],[22,0.025],[24,0.025],[26,0.07],[28,0.07],[31,0.055],[33,0.06],[36,0.07],[38,0.065],[40,0.055],[43,0.055],[50,0.03],[60,0.012],[70,0.005],[80,0.002],[90,0.001],[100,0.0005],[105,0.00037],[110,0.00035]],
  "Mean (dynamic)": [[1,0.0003],[2,0.004],[3,0.008],[4,0.006],[5,0.02],[6,0.025],[7,0.02],[8,0.07],[10,0.05],[12,0.05],[14,0.07],[17,0.1],[20,0.3],[22,0.2],[24,0.12],[27,0.2],[29,0.12],[32,0.1],[36,0.06],[40,0.045],[50,0.02],[60,0.008],[70,0.0035],[80,0.0018],[90,0.001],[100,0.0006],[110,0.00038]]
};

// 137Cs external dose rate (uGy/h)
var csExt = {
  "BURN-P": [[3,3e-6],[4,3e-6],[5,1e-5],[6,1e-4],[7,5e-4],[8,7e-4],[10,8e-4],[12,8e-4],[14,8e-4],[16,9e-4],[17,1.2e-3],[18,1.2e-3],[20,4e-3],[22,7e-3],[24,0.01],[27,0.015],[29,0.018],[31,0.017],[33,0.025],[35,0.025],[37,0.02],[40,0.013],[42,0.012],[45,0.01],[50,0.005],[55,0.003],[60,0.0028],[65,0.0018],[70,0.0015],[75,0.0014],[80,0.0008],[83,0.001],[86,0.0007],[90,0.00055],[95,0.0005],[100,0.0006],[105,0.0008],[110,0.00095]],
  "NRPA": [[2.5,1e-6],[3,1e-5],[5,6e-5],[6,4e-4],[8,0.004],[10,0.008],[14,0.009],[20,0.011],[24,0.012],[25,0.08],[27,0.17],[30,0.18],[32,0.2],[35,0.35],[38,0.42],[42,0.5],[50,0.55],[60,0.6],[70,0.62],[80,0.65],[90,0.68],[100,0.7],[110,0.72]],
  "K-BIOTA": [[1.5,1e-6],[2,1e-4],[3,1e-3],[4,1.5e-3],[5,3e-3],[6,5e-3],[7,3e-3],[8,6e-3],[9,0.02],[10,0.035],[12,0.04],[14,0.045],[18,0.05],[24,0.055],[25,0.3],[27,0.7],[30,0.8],[32,0.9],[34,1.5],[37,2],[40,2.2],[43,2.6],[50,2.7],[60,3],[70,3.1],[80,3.2],[90,3.3],[100,3.4],[110,3.5]],
  "D-DAT": [[2.5,1e-6],[3,2e-5],[5,1e-4],[6,5e-4],[8,0.005],[10,0.01],[14,0.012],[20,0.014],[24,0.015],[25,0.1],[27,0.2],[30,0.22],[32,0.25],[35,0.4],[38,0.5],[42,0.6],[50,0.65],[60,0.7],[70,0.72],[80,0.75],[90,0.78],[100,0.8],[110,0.82]],
  "ANL": [[2.5,1e-6],[3,1.5e-5],[5,8e-5],[6,4e-4],[8,0.005],[10,0.009],[14,0.011],[20,0.012],[24,0.013],[25,0.12],[27,0.2],[30,0.25],[32,0.3],[35,0.5],[38,0.55],[42,0.6],[50,0.7],[60,0.72],[70,0.75],[80,0.78],[90,0.8],[100,0.82],[110,0.85]],
  "ECOMOD": [[1,0.0001],[2,0.001],[3,0.002],[4,0.0015],[5,0.003],[6,0.005],[7,0.004],[8,0.006],[9,0.005],[10,0.01],[12,0.005],[13,0.003],[14,0.05],[16,0.1],[18,0.3],[20,0.5],[22,0.4],[24,0.25],[26,0.5],[27,0.7],[29,0.3],[31,0.2],[33,0.15],[35,0.08],[37,0.05],[40,0.025],[43,0.012],[44,0.015],[46,0.012],[50,0.007],[55,0.006],[58,0.0065],[60,0.005],[65,0.003],[68,0.0025],[70,0.004],[72,0.018],[74,0.012],[76,0.011],[78,0.008],[80,0.005],[82,0.002],[84,0.0018],[86,0.0025],[87,0.006],[89,0.005],[90,0.0045],[92,0.005],[94,0.002],[96,0.0012],[100,0.001],[104,0.001],[107,0.0009],[109,0.0012],[110,0.001]],
  "IRSN": [[2.5,1e-6],[3,1e-5],[5,5e-5],[6,3e-4],[8,0.003],[10,0.005],[14,0.006],[20,0.008],[24,0.01],[25,0.06],[27,0.1],[30,0.1],[32,0.12],[35,0.2],[38,0.25],[42,0.3],[50,0.32],[60,0.33],[70,0.35],[80,0.37],[90,0.38],[100,0.4],[110,0.41]],
  "ERICA": [[2.5,1e-6],[3,1e-5],[4,5e-5],[5,6e-5],[6,1e-4],[7,2e-3],[8,8e-3],[9,0.015],[10,0.018],[13,0.022],[18,0.024],[23,0.028],[24,0.03],[25,0.15],[26,0.3],[27,0.35],[29,0.4],[31,0.4],[32,0.6],[34,0.9],[36,1],[40,1.05],[42,1.2],[50,1.3],[60,1.4],[70,1.45],[80,1.5],[90,1.55],[100,1.6],[110,1.65]],
  "Mean (dynamic)": [[1,1.5e-5],[1.5,2e-4],[2,3e-4],[3,2e-4],[4,8e-4],[5,5e-4],[6,1e-3],[7,2e-3],[8,5e-3],[9,0.01],[12,0.02],[15,0.03],[17,0.05],[20,0.1],[22,0.08],[24,0.1],[26,0.25],[28,0.25],[30,0.3],[32,0.35],[35,0.6],[38,0.7],[40,0.75],[45,0.85],[50,0.9],[60,0.95],[70,0.97],[80,1],[90,1.02],[100,1.05],[110,1.1]]
};

// ---- line styles ----
var styles = {
  "BURN-P":         { color: "#9a9a9a", width: 1.3, dash: null },
  "NRPA":           { color: "#a2a2a2", width: 1.3, dash: "7,4" },
  "K-BIOTA":        { color: "#a8a8a8", width: 1.1, dash: "1,1.2" },
  "D-DAT":          { color: "#1c1c1c", width: 1.1, dash: "2.5,1.5" },
  "ANL":            { color: "#1c1c1c", width: 1.5, dash: null },
  "ECOMOD":         { color: "#a2a2a2", width: 1.1, dash: "2,1.5" },
  "IRSN":           { color: "#1c1c1c", width: 1.7, dash: "7,3" },
  "ERICA":          { color: "#111111", width: 2.4, dash: null },
  "Mean (dynamic)": { color: "#1c1c1c", width: 1.6, dash: "6,6" }
};
var drawOrder = ["K-BIOTA", "ECOMOD", "BURN-P", "NRPA", "D-DAT", "IRSN", "Mean (dynamic)", "ANL", "ERICA"];

var actLabel = "Activity concentration (Bq/kg)";
var doseLabel = "Dose rate (uGy/h)";

// ---- panel layout ----
var panels = [
  { data: srAct, iso: "90",  title: "Sr Macroalgae Daiichi North Channel", ylabel: actLabel, yExp: [-3, 6],
    cell: [3, 2, 452, 326], left: 72, right: 428, top: 15, bottom: 292, titleX: 270, titleY: 25, ylabX: 17, legX: 163, legY: 220 },
  { data: iAct, iso: "131", title: "I Macroalgae Daiichi North Channel", ylabel: actLabel, yExp: [-3, 7],
    cell: [457, 2, 452, 326], left: 524, right: 880, top: 15, bottom: 292, titleX: 731, titleY: 25, ylabX: 469, legX: 567, legY: 227 },
  { data: csAct, iso: "137", title: "Cs Macroalgae Daiichi North", ylabel: actLabel, yExp: [-3, 5],
    cell: [911, 2, 454, 326], left: 978, right: 1334, top: 15, bottom: 292, titleX: 1162, titleY: 25, ylabX: 923, legX: 1081, legY: 208 },
  { data: srInt, iso: "90",  title: "Sr Macroalgae int dose rate uGy/h Daiichi North Channel", ylabel: doseLabel, yExp: [-3, 5],
    cell: [3, 329, 452, 325], left: 72, right: 428, top: 341, bottom: 616, titleX: 248, titleY: 354, ylabX: 16, legX: 234, legY: 395 },
  { data: iInt, iso: "131", title: "I Macroalgae int dose rate uGy/h Daiichi North Channel", ylabel: doseLabel, yExp: [-6, 6],
    cell: [457, 329, 452, 325], left: 524, right: 880, top: 341, bottom: 616, titleX: 700, titleY: 354, ylabX: 469, legX: 558, legY: 555 },
  { data: csInt, iso: "137", title: "Cs Macroalgae int dose rate uGy/h Daiichi North Channel", ylabel: doseLabel, yExp: [-6, 2],
    cell: [911, 329, 454, 325], left: 978, right: 1334, top: 341, bottom: 616, titleX: 1157, titleY: 354, ylabX: 922, legX: 1064, legY: 530 },
  { data: srExt, iso: "90",  title: "Sr Macroalgae ext dose rate uGy/h Daiichi North Channel", ylabel: doseLabel, yExp: [-5, 3],
    cell: [3, 655, 452, 320], left: 74, right: 430, top: 662, bottom: 937, titleX: 256, titleY: 675, ylabX: 18, legX: 245, legY: 716 },
  { data: iExt, iso: "131", title: "I Macroalgae ext dose rate uGy/h Daiichi North Channel", ylabel: doseLabel, yExp: [-6, 2],
    cell: [457, 655, 452, 320], left: 525, right: 880, top: 662, bottom: 937, titleX: 708, titleY: 675, ylabX: 469, legX: 580, legY: 870 },
  { data: csExt, iso: "137", title: "Cs Macroalgae ext dose rate uGy/h Daiichi North Channel", ylabel: doseLabel, yExp: [-6, 2],
    cell: [911, 655, 454, 320], left: 980, right: 1336, top: 662, bottom: 937, titleX: 1164, titleY: 675, ylabX: 923, legX: 1045, legY: 863 }
];

var svg = d3.select("#chart");

// excel style exponent label, e.g. 1.E+06
function fmtExp(v) {
  var e = Math.round(Math.log10(v));
  var a = Math.abs(e);
  return "1.E" + (e < 0 ? "-" : "+") + (a < 10 ? "0" : "") + a;
}

function drawPanel(p, idx) {
  var g = svg.append("g");

  // cell frame
  g.append("rect")
    .attr("x", p.cell[0]).attr("y", p.cell[1])
    .attr("width", p.cell[2]).attr("height", p.cell[3])
    .attr("fill", "#fff").attr("stroke", "#b8b8b8").attr("stroke-width", 1.2);

  var x = d3.scaleLinear().domain([0, 110]).range([p.left, p.right]);
  var y = d3.scaleLog()
    .domain([Math.pow(10, p.yExp[0]), Math.pow(10, p.yExp[1])])
    .range([p.bottom, p.top]);
  var yTicks = d3.range(p.yExp[0], p.yExp[1] + 1).map(function(e) { return Math.pow(10, e); });

  // gridlines
  g.append("g").selectAll("line")
    .data(yTicks)
    .enter().append("line")
      .attr("x1", p.left).attr("x2", p.right)
      .attr("y1", function(d) { return Math.round(y(d)) + 0.5; })
      .attr("y2", function(d) { return Math.round(y(d)) + 0.5; })
      .attr("stroke", "#c4c4c4").attr("stroke-width", 1);

  // plot frame
  g.append("rect")
    .attr("x", p.left + 0.5).attr("y", p.top + 0.5)
    .attr("width", p.right - p.left).attr("height", p.bottom - p.top)
    .attr("fill", "none").attr("stroke", "#b0b0b0").attr("stroke-width", 1);

  // axes
  var ya = g.append("g")
    .attr("transform", "translate(" + p.left + ",0)")
    .call(d3.axisLeft(y).tickValues(yTicks).tickFormat(fmtExp).tickSize(0).tickPadding(10));
  ya.select(".domain").remove();
  ya.selectAll("text")
    .attr("font-family", "Liberation Sans, Arial, sans-serif")
    .attr("font-size", 11.5).attr("fill", "#222");

  var xa = g.append("g")
    .attr("transform", "translate(0," + p.bottom + ")")
    .call(d3.axisBottom(x).tickValues(xTicks).tickSize(0).tickPadding(7));
  xa.select(".domain").remove();
  xa.selectAll("text")
    .attr("font-family", "Liberation Sans, Arial, sans-serif")
    .attr("font-size", 11.5).attr("fill", "#222");

  // axis titles
  g.append("text")
    .attr("x", (p.left + p.right) / 2).attr("y", p.bottom + 33)
    .attr("text-anchor", "middle").attr("font-size", 11.5).attr("fill", "#222")
    .text("Time (days)");
  g.append("text")
    .attr("transform", "translate(" + p.ylabX + "," + ((p.top + p.bottom) / 2) + ") rotate(-90)")
    .attr("text-anchor", "middle").attr("dy", "0.35em")
    .attr("font-size", 10.5).attr("fill", "#222")
    .text(p.ylabel);

  // title with superscript isotope mass
  var t = g.append("text")
    .attr("x", p.titleX).attr("y", p.titleY + 3.5)
    .attr("text-anchor", "middle").attr("font-weight", "bold")
    .attr("font-size", 10).attr("fill", "#111");
  t.append("tspan").attr("font-size", 6.5).attr("dy", -3).text(p.iso);
  t.append("tspan").attr("dy", 3).text(p.title);

  // series
  var clipId = "clip" + idx;
  g.append("clipPath").attr("id", clipId)
    .append("rect")
      .attr("x", p.left).attr("y", p.top - 2)
      .attr("width", p.right - p.left).attr("height", p.bottom - p.top + 2);

  var line = d3.line()
    .x(function(d) { return x(d[0]); })
    .y(function(d) { return y(d[1]); });

  var lines = g.append("g").attr("clip-path", "url(#" + clipId + ")");
  drawOrder.forEach(function(m) {
    var s = styles[m];
    lines.append("path")
      .datum(p.data[m])
      .attr("d", line)
      .attr("fill", "none")
      .attr("stroke", s.color)
      .attr("stroke-width", s.width)
      .attr("stroke-dasharray", s.dash)
      .attr("stroke-linejoin", "round");
  });

  // legend
  var leg = g.append("g");
  models.forEach(function(m, k) {
    var col = k < 5 ? 0 : 1;
    var row = k < 5 ? k : k - 5;
    var lx = p.legX + col * 92;
    var ly = p.legY + row * 12;
    var s = styles[m];
    leg.append("line")
      .attr("x1", lx).attr("x2", lx + 20)
      .attr("y1", ly).attr("y2", ly)
      .attr("stroke", s.color).attr("stroke-width", s.width)
      .attr("stroke-dasharray", s.dash);
    leg.append("text")
      .attr("x", lx + 21).attr("y", ly).attr("dy", "0.35em")
      .attr("font-size", 9).attr("fill", "#333")
      .text(m);
  });
}

panels.forEach(drawPanel);
</script>
</body>
</html>
